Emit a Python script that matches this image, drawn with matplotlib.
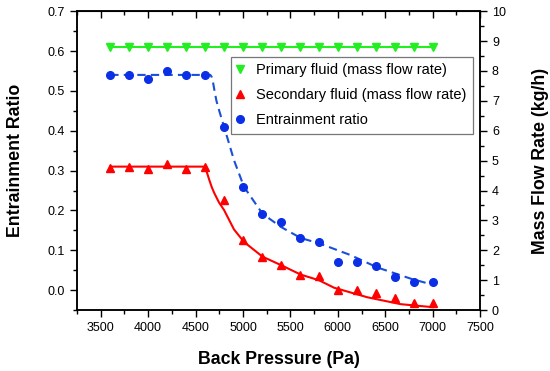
import numpy as np
import matplotlib.pyplot as plt

plt.rcParams['font.family'] = ['Liberation Sans', 'DejaVu Sans']

# back pressure (Pa)
pressure = [3600, 3800, 4000, 4200, 4400, 4600, 4800, 5000, 5200,
            5400, 5600, 5800, 6000, 6200, 6400, 6600, 6800, 7000]
# mass flow rates (kg/h), right axis
primary = [8.8] * 18
secondary = [4.77, 4.8, 4.73, 4.89, 4.73, 4.8, 3.67, 2.36, 1.77,
             1.5, 1.17, 1.13, 0.67, 0.69, 0.57, 0.39, 0.24, 0.23]
# entrainment ratio, left axis
ratio = [0.54, 0.54, 0.53, 0.55, 0.54, 0.54, 0.41, 0.26, 0.19,
         0.17, 0.131, 0.121, 0.071, 0.071, 0.06, 0.032, 0.021, 0.021]

# fitted curves
ratio_fit_x = [3600, 4655, 4670, 4685, 4700, 4720, 4747, 4800, 4853, 4905, 5011,
               5205, 5398, 5608, 5810, 6135, 6417, 6768, 6980]
ratio_fit_y = [0.54, 0.54, 0.535, 0.52, 0.50, 0.475, 0.452, 0.41, 0.368, 0.326, 0.259,
               0.192, 0.159, 0.131, 0.117, 0.088, 0.057, 0.029, 0.015]
sec_fit_x = [3600, 4600, 4620, 4645, 4670, 4695, 4747, 4800, 4905, 5011, 5205, 5398,
             5608, 5801, 5960, 6312, 6663, 7000]
sec_fit_y = [4.8, 4.8, 4.6, 4.35, 4.12, 3.93, 3.6, 3.35, 2.7, 2.28, 1.79, 1.51,
             1.19, 1.0, 0.75, 0.43, 0.2, 0.1]

green = '#22ee22'
red = '#ff0000'
blue = '#0a2fe6'

fig, ax = plt.subplots(figsize=(5.5, 3.71), dpi=100)
fig.subplots_adjust(left=0.14, right=0.873, top=0.970, bottom=0.164)
ax2 = ax.twinx()

ax.plot(ratio_fit_x, ratio_fit_y, color='#1a4fd8', lw=1.5, ls=(0, (4, 2.5)))
h3, = ax.plot(pressure, ratio, 'o', color=blue, ms=5.5, label='Entrainment ratio')

ax2.plot(pressure, primary, '-', color=green, lw=1.5)
h1, = ax2.plot(pressure, primary, 'v', color=green, ms=6,
               label='Primary fluid (mass flow rate)')
ax2.plot(sec_fit_x, sec_fit_y, '-', color=red, lw=1.5)
h2, = ax2.plot(pressure, secondary, '^', color=red, ms=6,
               label='Secondary fluid (mass flow rate)')

ax.set_xlim(3250, 7500)
ax.set_ylim(-0.05, 0.7)
ax2.set_ylim(0, 10)
ax.set_xticks(np.arange(3500, 7501, 500))
ax.set_xticks(np.arange(3250, 7501, 250), minor=True)
ax.set_yticks(np.arange(0, 0.71, 0.1))
ax.set_yticks(np.arange(-0.05, 0.71, 0.05), minor=True)
ax2.set_yticks(np.arange(0, 11, 1))
ax2.set_yticks(np.arange(0, 10.1, 0.5), minor=True)
ax.yaxis.set_major_formatter(plt.FormatStrFormatter('%.1f'))

for a in (ax, ax2):
    a.tick_params(which='major', length=5, width=1, labelsize=9, direction='out')
    a.tick_params(which='minor', length=3, width=1, direction='out')
    for s in a.spines.values():
        s.set_linewidth(1.1)

top = ax.secondary_xaxis('top')
top.set_xticks(np.arange(3500, 7501, 500))
top.set_xticks(np.arange(3250, 7501, 250), minor=True)
top.tick_params(which='major', direction='in', length=5, width=1, labeltop=False)
top.tick_params(which='minor', direction='in', length=3, width=1)

ax.set_xlabel('Back Pressure (Pa)', fontsize=12.8, fontweight='bold', labelpad=12)
ax.set_ylabel('Entrainment Ratio', fontsize=12.8, fontweight='bold', labelpad=17)
ax2.set_ylabel('Mass Flow Rate (kg/h)', fontsize=12.8, fontweight='bold', labelpad=19)

leg = ax2.legend(handles=[h1, h2, h3], loc='upper right',
                 bbox_to_anchor=(0.99, 0.857), fontsize=10.5, frameon=True,
                 fancybox=False, edgecolor='#555555', labelspacing=0.75,
                 handletextpad=0.9, handlelength=0.4, borderpad=0.45,
                 borderaxespad=0.2)
leg.get_frame().set_linewidth(0.9)

fig.savefig('out.png', dpi=100)
